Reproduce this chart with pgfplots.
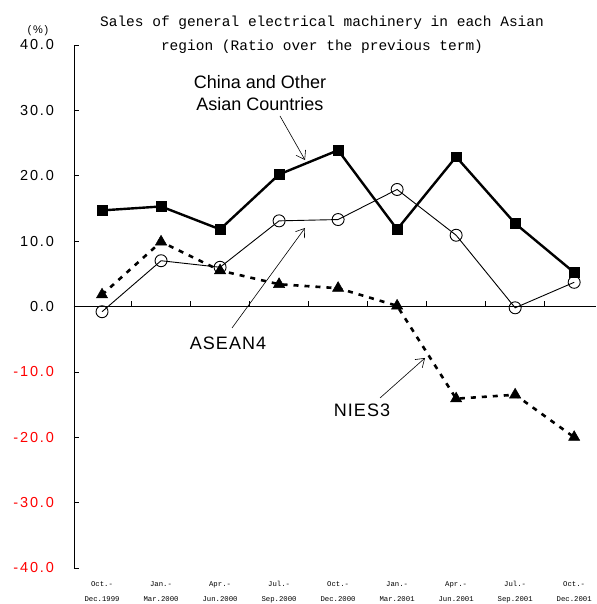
\documentclass[border=0pt]{standalone}
\usepackage{pgfplots}
\pgfplotsset{compat=1.18}
\usepackage{fontspec}
\setmainfont{Liberation Sans}
\newfontfamily\mono{Liberation Mono}
\newfontfamily\ticksf{Liberation Sans}[LetterSpace=13]
\newfontfamily\annsf{Liberation Sans}[LetterSpace=6]
\usetikzlibrary{arrows.meta}

\pgfplotstableread{
x   china  asean  nies
0   14.7   -0.8    1.8
1   15.3    7.0    9.9
2   11.8    6.0    5.5
3   20.2   13.1    3.4
4   23.9   13.3    2.8
5   11.8   17.9    0.1
6   22.9   10.9  -14.1
7   12.7   -0.2  -13.5
8    5.2    3.7  -20.0
}\sales

\begin{document}
\begin{tikzpicture}
% fix the page to the reference size (1pt = 1px); origin = bottom-left of axis
\path[use as bounding box] (-74pt,-36pt) rectangle (522pt,568pt);
\begin{axis}[
    at={(0pt,0pt)}, anchor=south west,
    scale only axis, width=522pt, height=523pt,
    xmin=-0.475, xmax=8.37, ymin=-40, ymax=40,
    axis x line=middle, axis y line=left,
    axis line style={-, black, line width=0.9pt},
    x axis line style={line width=0.6pt},
    tick align=center,
    major tick length=5pt,
    xtick={0.5,1.5,...,7.5}, xticklabels={},
    x tick style={yshift=2.5pt, black, line width=0.5pt},
    ytick={-40,-30,...,40},
    y tick style={xshift=2.5pt, black, line width=0.7pt},
    yticklabels={{\color{red}-40.0},{\color{red}-30.0},{\color{red}-20.0},{\color{red}-10.0},0.0,10.0,20.0,30.0,40.0},
    yticklabel style={font=\ticksf\fontsize{14.5}{16}\selectfont, xshift=-14pt},
    clip=false,
]
\addplot[black, line width=2.4pt, mark=square*, mark size=4.8pt, mark options={solid, fill=black, line width=0.5pt}]
    table[x=x, y=china] {\sales};
\addplot[black, line width=0.9pt, mark=o, mark size=6pt, mark options={solid, fill=white, line width=0.9pt}]
    table[x=x, y=asean] {\sales};
\addplot[black, line width=2.6pt, dash pattern=on 5pt off 6pt, mark=triangle*, mark size=6.5pt, mark options={solid, fill=black, line width=0.5pt}]
    table[x=x, y=nies] {\sales};

% category labels under the plot
\node[font=\mono\fontsize{7.3}{15}\selectfont, align=center] at (axis cs:0,-40) [yshift=-24pt] {Oct.-\\Dec.1999};
\node[font=\mono\fontsize{7.3}{15}\selectfont, align=center] at (axis cs:1,-40) [yshift=-24pt] {Jan.-\\Mar.2000};
\node[font=\mono\fontsize{7.3}{15}\selectfont, align=center] at (axis cs:2,-40) [yshift=-24pt] {Apr.-\\Jun.2000};
\node[font=\mono\fontsize{7.3}{15}\selectfont, align=center] at (axis cs:3,-40) [yshift=-24pt] {Jul.-\\Sep.2000};
\node[font=\mono\fontsize{7.3}{15}\selectfont, align=center] at (axis cs:4,-40) [yshift=-24pt] {Oct.-\\Dec.2000};
\node[font=\mono\fontsize{7.3}{15}\selectfont, align=center] at (axis cs:5,-40) [yshift=-24pt] {Jan.-\\Mar.2001};
\node[font=\mono\fontsize{7.3}{15}\selectfont, align=center] at (axis cs:6,-40) [yshift=-24pt] {Apr.-\\Jun.2001};
\node[font=\mono\fontsize{7.3}{15}\selectfont, align=center] at (axis cs:7,-40) [yshift=-24pt] {Jul.-\\Sep.2001};
\node[font=\mono\fontsize{7.3}{15}\selectfont, align=center] at (axis cs:8,-40) [yshift=-24pt] {Oct.-\\Dec.2001};
\end{axis}

% title and unit
\node[font=\mono\fontsize{14.5}{24}\selectfont, align=center] at (248pt,533pt)
    {Sales of general electrical machinery in each Asian\\region (Ratio over the previous term)};
\node[font=\fontsize{11}{12}\selectfont] at (-36pt,537pt) {(\,\%\,)};

% series labels with arrows
\node[font=\fontsize{18}{22}\selectfont, align=center] at (186pt,475pt) {China and Other\\Asian Countries};
\draw[-{Straight Barb[length=8pt,width=11pt]}, line width=0.6pt] (206pt,452pt) -- (231pt,408pt);
\node[font=\annsf\fontsize{18}{22}\selectfont] at (154pt,225pt) {ASEAN4};
\draw[-{Straight Barb[length=8pt,width=11pt]}, line width=0.6pt] (158pt,240pt) -- (231pt,340pt);
\node[font=\annsf\fontsize{18}{22}\selectfont] at (288pt,158pt) {NIES3};
\draw[-{Straight Barb[length=8pt,width=11pt]}, line width=0.6pt] (306pt,170pt) -- (351pt,210pt);
\end{tikzpicture}
\end{document}
